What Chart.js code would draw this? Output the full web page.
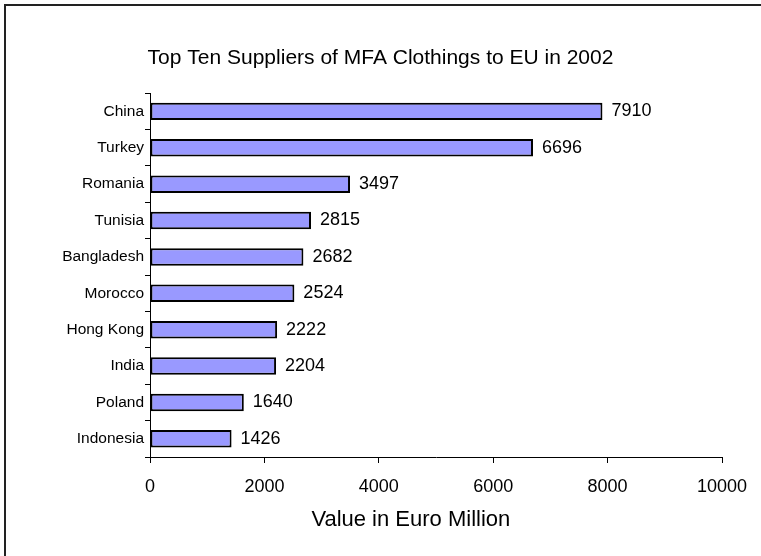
<!DOCTYPE html>
<html>
<head>
<meta charset="utf-8">
<script src="https://cdn.jsdelivr.net/npm/chart.js@4"></script>
<style>
    html, body { margin: 0; padding: 0; background: #fff; }
    #wrap { position: relative; width: 761px; height: 556px; overflow: hidden; }
    #frame { position: absolute; left: 4px; top: 4px; width: 800px; height: 600px;
             border-left: 2px solid #222; border-top: 2px solid #222; }
    canvas { position: absolute; left: 0; top: 0; }
</style>
</head>
<body>
<div id="wrap">
    <div id="frame"></div>
    <canvas id="chart1" width="761" height="556"></canvas>
</div>
<script>
var countries = ['China', 'Turkey', 'Romania', 'Tunisia', 'Bangladesh', 'Morocco', 'Hong Kong', 'India', 'Poland', 'Indonesia'];
var values = [7910, 6696, 3497, 2815, 2682, 2524, 2222, 2204, 1640, 1426];
var xTicks = [0, 2000, 4000, 6000, 8000, 10000];
var axisTitle = 'Value in Euro Million';

document.addEventListener('DOMContentLoaded', function () {

    Chart.defaults.font.family = '"Liberation Sans", Arial, sans-serif';
    Chart.defaults.color = '#000';

    // value next to the end of each bar, plus the x axis title
    var valueLabels = {
        id: 'valueLabels',
        afterDatasetsDraw: function (chart) {
            var ctx = chart.ctx;
            var meta = chart.getDatasetMeta(0);
            ctx.save();
            ctx.font = '18px "Liberation Sans", Arial, sans-serif';
            ctx.fillStyle = '#000';
            ctx.textAlign = 'left';
            ctx.textBaseline = 'middle';
            meta.data.forEach(function (bar, i) {
                ctx.fillText(values[i], bar.x + 9, bar.y);
            });
            // Excel puts the axis title a bit left of the plot centre
            ctx.font = '22px "Liberation Sans", Arial, sans-serif';
            ctx.textAlign = 'center';
            var xs = chart.scales.x;
            ctx.fillText(axisTitle, xs.getPixelForValue(4560), 520);
            ctx.restore();
        }
    };

    var ctx1 = document.getElementById('chart1').getContext('2d');
    var chart1 = new Chart(ctx1, {
        type: 'bar',
        data: {
            labels: countries,
            datasets: [{
                data: values,
                backgroundColor: '#9999ff',
                borderColor: '#000',
                borderWidth: 2,
                borderSkipped: false,
                barPercentage: 0.48,
                categoryPercentage: 1
            }]
        },
        options: {
            indexAxis: 'y',
            responsive: false,
            animation: false,
            layout: { padding: { left: 0, right: 0, top: 0, bottom: 24 } },
            plugins: {
                legend: { display: false },
                tooltip: { enabled: false },
                title: {
                    display: true,
                    text: 'Top Ten Suppliers of MFA Clothings to EU in 2002',
                    font: { size: 21, weight: 'normal' },
                    color: '#000',
                    padding: { top: 46, bottom: 22 }
                }
            },
            scales: {
                x: {
                    min: 0,
                    max: 10000,
                    afterBuildTicks: function (scale) {
                        scale.ticks = xTicks.map(function (v) { return { value: v }; });
                    },
                    afterFit: function (scale) { scale.height = 75; },
                    grid: { drawOnChartArea: false, tickLength: 6, color: '#000' },
                    border: { color: '#000', width: 1 },
                    ticks: {
                        font: { size: 18 },
                        padding: 13,
                        maxRotation: 0,
                        callback: function (v) { return String(v); }
                    }
                },
                y: {
                    afterFit: function (scale) { scale.width = 150; },
                    grid: { offset: true, drawOnChartArea: false, tickLength: 5, color: '#000' },
                    border: { color: '#000', width: 1 },
                    ticks: { font: { size: 15.5 }, padding: 1 }
                },
                // empty axis that only keeps the right margin
                spacer: {
                    axis: 'y',
                    position: 'right',
                    display: true,
                    afterFit: function (scale) { scale.width = 39; },
                    grid: { display: false },
                    border: { display: false },
                    ticks: { display: false }
                }
            }
        },
        plugins: [valueLabels]
    });
});
</script>
</body>
</html>
